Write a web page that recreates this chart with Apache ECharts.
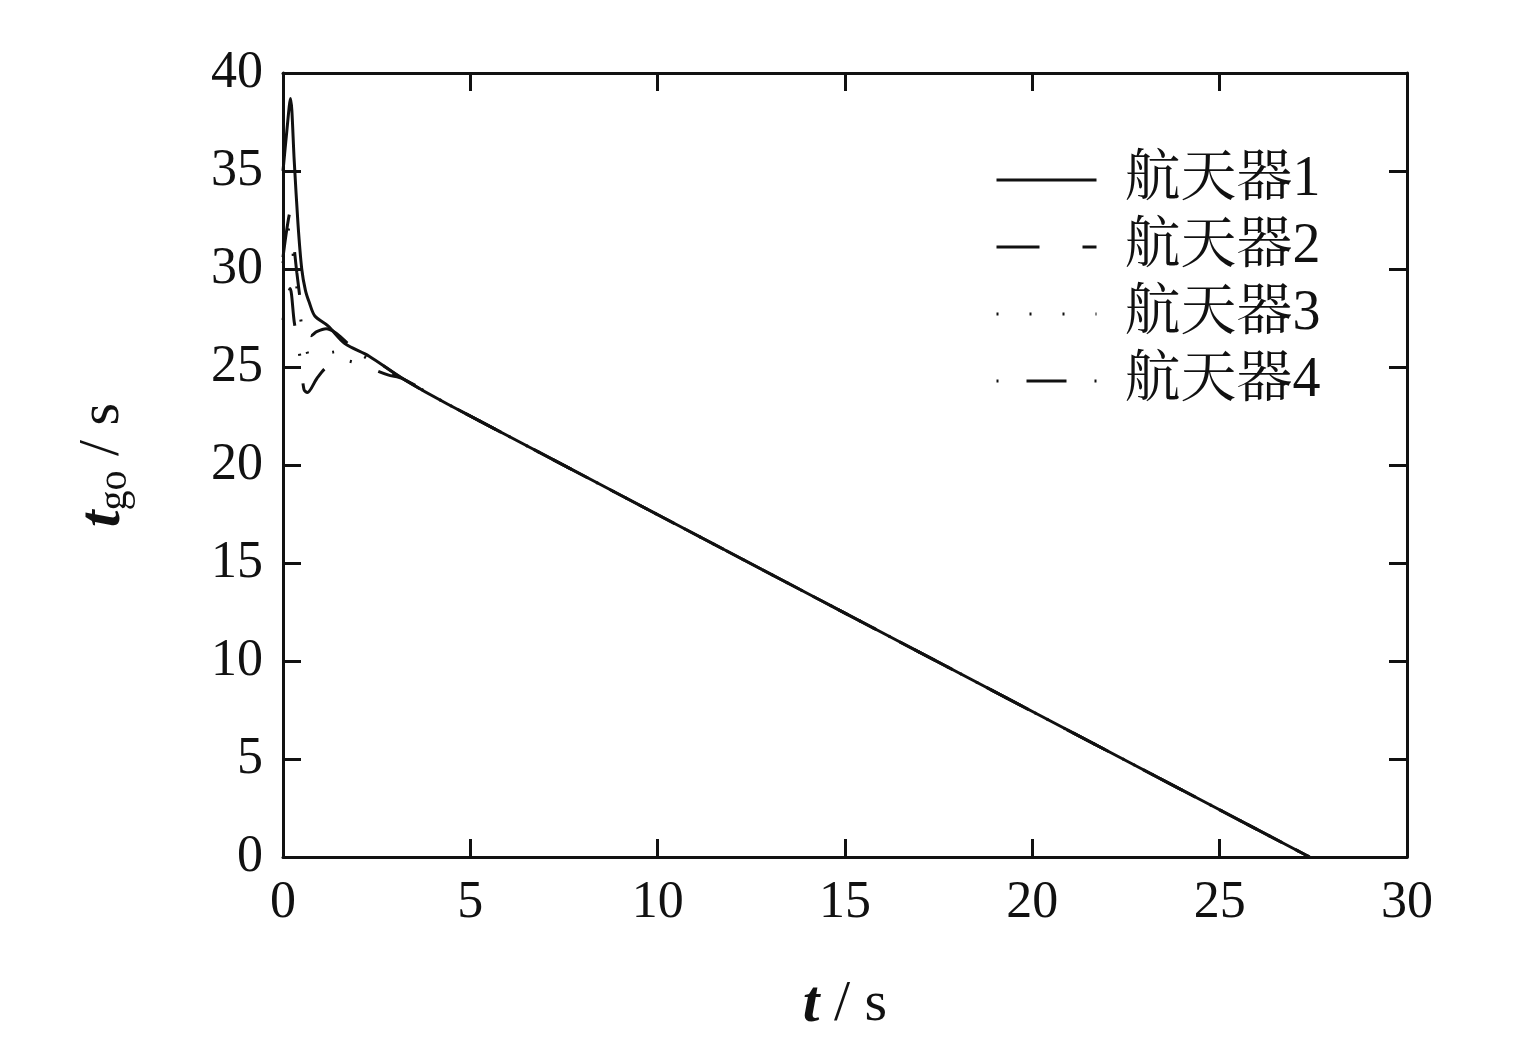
<!DOCTYPE html>
<html>
<head>
<meta charset="utf-8">
<script src="https://cdn.jsdelivr.net/npm/echarts@6/dist/echarts.min.js"></script>
<style>
html,body{margin:0;padding:0;background:#fff;}
#c{width:1526px;height:1055px;}
</style>
</head>
<body>
<div id="c"></div>
<script>
var seriesNames = ['航天器1', '航天器2', '航天器3', '航天器4'];
var xTicks = [0, 5, 10, 15, 20, 25, 30];
var yTicks = [0, 5, 10, 15, 20, 25, 30, 35, 40];

// shared common tail (all vehicles converge)
var tailT = [3.2, 4.4, 27.4];
var tailV = [24.4, 23.1, 0];

// early transient parts
var t1 = [0, 0.1, 0.2, 0.3, 0.4, 0.5, 0.6, 0.7, 0.85, 1.2, 1.65, 2.3];
var v1 = [35.0, 37.0, 38.7, 35.5, 32.3, 30.0, 28.9, 28.3, 27.6, 27.1, 26.2, 25.55];

var t2 = [0, 0.1, 0.19, 0.28, 0.37, 0.5, 0.6, 0.75, 0.9, 1.15, 1.4, 1.8, 2.3];
var v2 = [30.6, 32.0, 32.9, 31.4, 29.8, 27.9, 27.0, 26.6, 26.8, 26.95, 26.75, 26.1, 25.55];

var t3 = [0, 0.1, 0.17, 0.3, 0.5, 0.67, 0.8, 1.0, 1.3, 1.7, 2.1, 2.6];
var v3 = [30.3, 31.5, 32.2, 30.2, 27.1, 25.6, 25.3, 25.5, 25.75, 25.8, 25.6, 25.0];

var t4 = [0, 0.1, 0.19, 0.3, 0.47, 0.56, 0.65, 0.9, 1.17, 1.6, 2.1, 2.8];
var v4 = [27.4, 28.4, 29.0, 27.3, 25.3, 23.85, 23.7, 24.4, 25.0, 25.35, 25.1, 24.6];

function build(ts, vs) {
  var out = [];
  var i;
  for (i = 0; i < ts.length; i++) out.push([ts[i], vs[i]]);
  for (i = 0; i < tailT.length; i++) out.push([tailT[i], tailV[i]]);
  return out;
}

var FONT = "'Liberation Serif', 'Times New Roman', serif";
var CJK = "'Liberation Serif', 'Noto Serif CJK SC', 'Noto Sans CJK SC', serif";

var lineTypes = ['solid', [43, 43], [2, 31], [2, 28, 40, 28]];
var datas = [build(t1, v1), build(t2, v2), build(t3, v3), build(t4, v4)];

var series = seriesNames.map(function (n, i) {
  return {
    name: n,
    type: 'line',
    data: datas[i],
    showSymbol: false,
    symbol: 'none',
    smooth: 0.3,
    lineStyle: { color: '#111', width: 3, type: lineTypes[i] },
    itemStyle: { color: '#111' },
    xAxisIndex: 0,
    yAxisIndex: 0,
    animation: false,
    z: 4 - i
  };
});

var chart = echarts.init(document.getElementById('c'), null, { renderer: 'canvas' });

var option = {
  animation: false,
  backgroundColor: '#fff',
  grid: { left: 283, top: 73, width: 1124, height: 784, containLabel: false },
  legend: {
    orient: 'vertical',
    left: 995,
    top: 152,
    padding: 0,
    itemWidth: 100,
    itemHeight: 20,
    itemGap: 11,
    data: seriesNames,
    itemStyle: { opacity: 0 },
    lineStyle: { width: 3 },
    textStyle: { fontFamily: CJK, fontSize: 56, color: '#111', lineHeight: 50, padding: [0, 0, 0, 23] },
    selectedMode: false
  },
  xAxis: [{
    type: 'value', min: 0, max: 30, interval: 5, position: 'bottom',
    axisLine: { show: true, onZero: false, lineStyle: { color: '#111', width: 3 } },
    axisTick: { show: true, inside: true, length: 18, lineStyle: { color: '#111', width: 3 } },
    axisLabel: { show: true, margin: 20, fontFamily: FONT, fontSize: 52, color: '#111' },
    splitLine: { show: false },
    name: '{i|t} / s',
    nameLocation: 'middle',
    nameGap: 118,
    nameTextStyle: {
      fontFamily: FONT, fontSize: 58, color: '#111',
      rich: { i: { fontFamily: FONT, fontSize: 60, fontStyle: 'italic', fontWeight: 'bold', color: '#111' } }
    }
  }, {
    type: 'value', min: 0, max: 30, interval: 5, position: 'top',
    axisLine: { show: true, onZero: false, lineStyle: { color: '#111', width: 3 } },
    axisTick: { show: true, inside: true, length: 18, lineStyle: { color: '#111', width: 3 } },
    axisLabel: { show: false },
    splitLine: { show: false }
  }],
  yAxis: [{
    type: 'value', min: 0, max: 40, interval: 5, position: 'left',
    axisLine: { show: true, onZero: false, lineStyle: { color: '#111', width: 3 } },
    axisTick: { show: true, inside: true, length: 18, lineStyle: { color: '#111', width: 3 } },
    axisLabel: { show: true, margin: 20, fontFamily: FONT, fontSize: 52, color: '#111' },
    splitLine: { show: false },
    name: '{i|t}{s|go} / s',
    nameLocation: 'middle',
    nameGap: 148,
    nameRotate: 90,
    nameTextStyle: {
      fontFamily: FONT, fontSize: 58, color: '#111',
      rich: {
        i: { fontFamily: FONT, fontSize: 60, fontStyle: 'italic', fontWeight: 'bold', color: '#111' },
        s: { fontFamily: FONT, fontSize: 40, color: '#111', padding: [24, 0, 0, 0] }
      }
    }
  }, {
    type: 'value', min: 0, max: 40, interval: 5, position: 'right',
    axisLine: { show: true, onZero: false, lineStyle: { color: '#111', width: 3 } },
    axisTick: { show: true, inside: true, length: 18, lineStyle: { color: '#111', width: 3 } },
    axisLabel: { show: false },
    splitLine: { show: false }
  }],
  series: series
};
chart.setOption(option);
</script>
</body>
</html>
